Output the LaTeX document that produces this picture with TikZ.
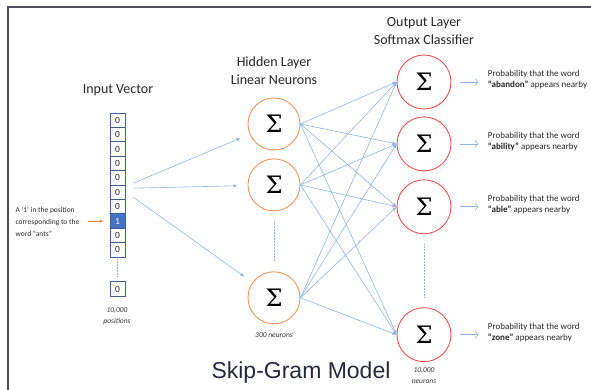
\documentclass[tikz,border=0pt]{standalone}
\usepackage{fontspec}
\setmainfont{Carlito}
\newfontfamily\headfont{Liberation Sans}
\newfontfamily\sigmafont{DejaVu Serif}
\usetikzlibrary{matrix,positioning,arrows.meta,calc}

\definecolor{frameGray}{RGB}{80,80,88}
\definecolor{hidOrange}{RGB}{240,150,90}
\definecolor{outRed}{RGB}{240,80,80}
\definecolor{linkBlue}{RGB}{143,180,227}
\definecolor{cellBlue}{RGB}{68,114,196}
\definecolor{cellEdge}{RGB}{65,95,145}
\definecolor{noteOrange}{RGB}{237,125,49}
\definecolor{titleNavy}{RGB}{38,42,58}

\tikzset{
	cellbox/.style={draw=cellEdge, line width=0.6pt, minimum width=15pt, minimum height=14.4pt,
		inner sep=0pt, font=\fontsize{9.5}{10}\selectfont, text=black!85},
	onecell/.style={fill=cellBlue, text=white},
	hidneuron/.style={circle, draw=hidOrange, line width=0.9pt, minimum size=52pt,
		inner sep=0pt, font=\sigmafont\fontsize{24}{24}\selectfont},
	outneuron/.style={circle, draw=outRed, line width=0.9pt, minimum size=54pt,
		inner sep=0pt, font=\sigmafont\fontsize{24}{24}\selectfont},
	link/.style={draw=linkBlue, line width=0.6pt, -{Latex[length=4pt,width=3.5pt]}},
	outarrow/.style={draw=linkBlue, line width=0.6pt, -{Straight Barb[length=3pt,width=7pt]}},
	dotsline/.style={draw=linkBlue, densely dotted, line width=0.5pt},
	layertitle/.style={font=\fontsize{14}{18}\selectfont, text=black!85, align=center},
	smallnote/.style={font=\fontsize{7.5}{11}\selectfont\itshape, align=center, text=black!80},
	probtext/.style={font=\fontsize{9}{11}\selectfont, align=left, text=black!85},
}

\begin{document}
\begin{tikzpicture}[x=1pt, y=1pt]
	\useasboundingbox (0,0) rectangle (591,390);

	% Frame
	\draw[frameGray, line width=1.6pt] (8,0) -- (8,383) -- (591,383);

	% Input vector
	\matrix (vec) [matrix of nodes, row sep=-0.6pt, inner sep=0pt, nodes={cellbox}] at (117.5,205) {
		0\\ 0\\ 0\\ 0\\ 0\\ 0\\ 0\\ |[onecell]| 1\\ 0\\ 0\\
	};
	\node[cellbox] (last) at (117.5,101) {0};
	\draw[dotsline, shorten <=2pt, shorten >=4pt] (vec.south) -- (last.north);

	\node[layertitle] (intitle) at (118,300) {Input Vector};
	\node[smallnote] (positions) at (117,74) {10,000\\positions};

	\node[font=\fontsize{7.5}{12}\selectfont, align=left, anchor=west, text=black!85] (ants) at (12,168)
		{A `1' in the position\\corresponding to the\\word ``ants''};
	\draw[noteOrange, line width=0.8pt, -{Latex[length=3.5pt,width=3pt]}]
		([xshift=-22pt]vec-8-1.west) -- ([xshift=-6pt]vec-8-1.west);

	% Hidden layer
	\node[hidneuron] (h1) at (274,266) {Σ};
	\node[hidneuron, below=8pt of h1] (h2) {Σ};
	\node[hidneuron, below=60pt of h2] (h3) {Σ};
	\draw[dotsline, shorten <=10pt, shorten >=10pt] (h2.south) -- (h3.north);

	\node[layertitle] (hidtitle) at (274,319) {Hidden Layer\\Linear Neurons};
	\node[smallnote] (hidcount) at (274,55) {300 neurons};

	% Output layer
	\node[outneuron] (o1) at (424,308) {Σ};
	\node[outneuron, below=7pt of o1] (o2) {Σ};
	\node[outneuron, below=8pt of o2] (o3) {Σ};
	\node[outneuron, below=73pt of o3] (o4) {Σ};
	\draw[dotsline, shorten <=10pt, shorten >=10pt] (o3.south) -- (o4.north);

	\node[layertitle] (outtitle) at (424,359) {Output Layer\\Softmax Classifier};
	\node[smallnote] (outcount) at (424,14) {10,000\\neurons};

	% Input -> hidden
	\draw[link, shorten >=10pt] ([xshift=8pt,yshift=9pt]vec-6-1.east) -- (h1);
	\draw[link, shorten >=10pt] ([xshift=8pt,yshift=4pt]vec-6-1.east) -- (h2);
	\draw[link, shorten >=10pt] ([xshift=8pt,yshift=-5pt]vec-6-1.east) -- (h3);

	% Hidden -> output
	\draw[link] (h1.east) -- (o1.west);
	\draw[link] (h1.east) -- (o2.west);
	\draw[link] (h1.east) -- (o3.west);
	\draw[link] (h1.east) -- (o4.west);
	\draw[link] (h2.east) -- (o1.west);
	\draw[link] (h2.east) -- (o2.west);
	\draw[link] (h2.east) -- (o3.west);
	\draw[link] (h2.east) -- (o4.west);
	\draw[link] (h3.east) -- (o1.west);
	\draw[link] (h3.east) -- (o2.west);
	\draw[link] (h3.east) -- (o3.west);
	\draw[link] (h3.east) -- (o4.west);

	% Probabilities
	\node[probtext, right=33pt of o1, yshift=2pt] (p1) {Probability that the word\\\textbf{``abandon''} appears nearby};
	\node[probtext, right=33pt of o2, yshift=2pt] (p2) {Probability that the word\\\textbf{``ability''} appears nearby};
	\node[probtext, right=33pt of o3, yshift=2pt] (p3) {Probability that the word\\\textbf{``able''} appears nearby};
	\node[probtext, right=33pt of o4, yshift=2pt] (p4) {Probability that the word\\\textbf{``zone''} appears nearby};

	\draw[outarrow] ([xshift=9pt]o1.east) -- ([xshift=-6pt]p1.west |- o1);
	\draw[outarrow] ([xshift=9pt]o2.east) -- ([xshift=-6pt]p2.west |- o2);
	\draw[outarrow] ([xshift=9pt]o3.east) -- ([xshift=-6pt]p3.west |- o3);
	\draw[outarrow] ([xshift=9pt]o4.east) -- ([xshift=-6pt]p4.west |- o4);

	\node[font=\headfont\fontsize{23}{23}\selectfont, text=titleNavy, anchor=base] (title) at (301,11) {Skip-Gram Model};
\end{tikzpicture}
\end{document}
